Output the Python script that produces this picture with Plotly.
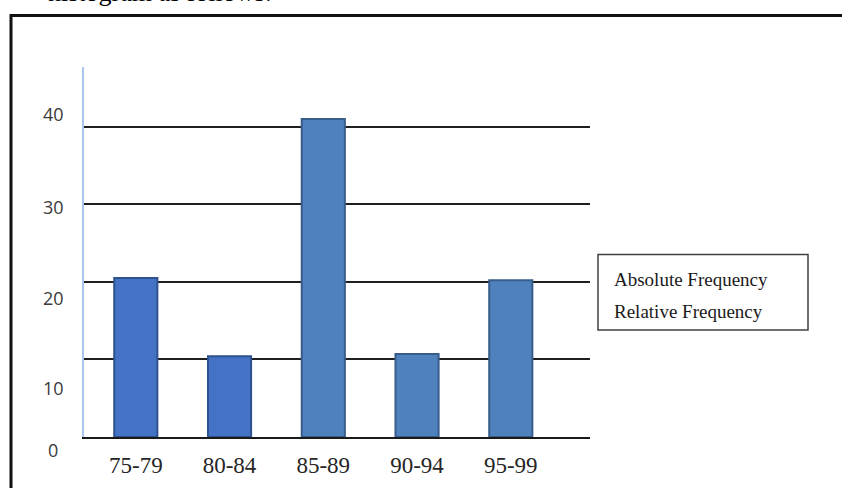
import plotly.graph_objects as go

# ---- data ----
categories = ["75-79", "80-84", "85-89", "90-94", "95-99"]
frequencies = [20.5, 10.4, 41.0, 10.7, 20.2]
bar_fill = ["#4472C4", "#4472C4", "#4F81BD", "#4F81BD", "#4F81BD"]
bar_edge = ["#2F528F", "#2F528F", "#385D8A", "#385D8A", "#385D8A"]
grid_values = [10, 20, 30, 40]
y_tick_labels = ["0", "10", "20", "30", "40"]
y_tick_label_pos = [-1.65, 6.28, 17.98, 29.69, 41.70]
legend_lines = ["Absolute Frequency", "Relative Frequency"]
header_text = "histogram as follows:"

Y_MAX = 47.7
SY = 491 / 488  # small vertical compensation for the capture
W, H = 842, round(488 * SY)
L, R = 84, 252
T, B = round(67 * SY), round(54 * SY)
pw, ph = W - L - R, H - T - B


def px_x(p):
    return (p - L) / pw


def px_y(p):
    return (H - B - p * SY) / ph


fig = go.Figure()
fig.add_trace(go.Bar(
    x=categories, y=frequencies, width=0.46,
    marker=dict(color=bar_fill, line=dict(color=bar_edge, width=2)),
    showlegend=False, hoverinfo="x+y",
))

annotations = []
for lab, pos in zip(y_tick_labels, y_tick_label_pos):
    annotations.append(dict(
        text=lab, x=px_x(53), y=pos / Y_MAX, xref="paper", yref="paper",
        xanchor="center", yanchor="middle", showarrow=False,
        font=dict(family="Open Sans, Liberation Sans, sans-serif", size=18, color="#3a3a3a"),
    ))
for line, ypx in zip(legend_lines, [277.5, 309.5]):
    annotations.append(dict(
        text=line, x=px_x(612), y=px_y(ypx), xref="paper", yref="paper",
        xanchor="left", yanchor="middle", showarrow=False,
        font=dict(family="Liberation Serif, Times New Roman, serif", size=19, color="#1a1a1a"),
    ))
annotations.append(dict(
    text=header_text, x=px_x(274), y=px_y(8.5), xref="paper", yref="paper",
    xanchor="right", yanchor="bottom", showarrow=False,
    font=dict(family="Liberation Serif, Times New Roman, serif", size=26, color="#000000"),
))

shapes = [
    # outer document frame (cut off at right and bottom)
    dict(type="rect", xref="paper", yref="paper",
         x0=px_x(11), x1=px_x(860), y0=px_y(520), y1=px_y(15.5),
         line=dict(color="#111111", width=3), fillcolor="rgba(0,0,0,0)", layer="above"),
    # legend box
    dict(type="rect", xref="paper", yref="paper",
         x0=px_x(598), x1=px_x(808), y0=px_y(328), y1=px_y(253),
         line=dict(color="#404040", width=1.5), fillcolor="rgba(0,0,0,0)"),
]

fig.update_layout(
    width=W, height=H,
    margin=dict(l=L, r=R, t=T, b=B, pad=0),
    paper_bgcolor="white", plot_bgcolor="white",
    annotations=annotations, shapes=shapes,
    xaxis=dict(
        type="category", range=[-0.5525, 4.845],
        showline=True, linecolor="#1a1a1a", linewidth=1.5,
        showgrid=False, zeroline=False, ticks="", ticklabelstandoff=7,
        tickfont=dict(family="Liberation Serif, Times New Roman, serif", size=23, color="#262626"),
    ),
    yaxis=dict(
        range=[0, Y_MAX], tickvals=grid_values, showticklabels=False,
        showgrid=True, gridcolor="#1f1f1f", gridwidth=1.5,
        showline=True, linecolor="#A9C5EB", linewidth=2,
        zeroline=False, ticks="",
    ),
    bargap=0.5,
)

page_css = (
    "var s=document.createElement('style');"
    "s.textContent='html,body{margin:0;padding:0;overflow:hidden;}"
    ".plotly-graph-div{display:block;}';"
    "document.head.appendChild(s);"
)

fig.write_html(
    "out.html",
    config={"displayModeBar": False},
    post_script=page_css,
)
